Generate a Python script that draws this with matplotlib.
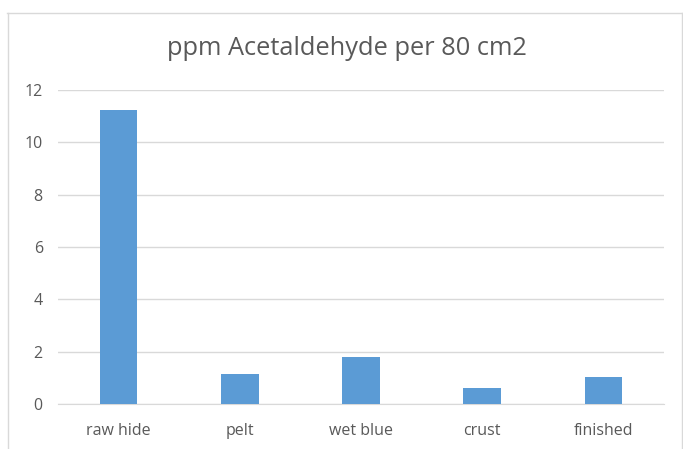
import matplotlib.pyplot as plt
from matplotlib.lines import Line2D

# tanning stages and measured acetaldehyde (ppm per 80 cm2)
stages = ['raw hide', 'pelt', 'wet blue', 'crust', 'finished']
ppm = [11.23, 1.13, 1.81, 0.60, 1.04]
y_ticks = [0, 2, 4, 6, 8, 10, 12]

plt.rcParams['font.family'] = ['Open Sans', 'DejaVu Sans']

fig = plt.figure(figsize=(6.83, 4.49), dpi=100)
ax = fig.add_axes([0.085, 0.1002, 0.887, 0.6994])

ax.bar(range(len(stages)), ppm, width=0.31, color='#5b9bd5', zorder=3)

ax.set_ylim(0, 12)
ax.set_xlim(-0.5, len(stages) - 0.5)
ax.set_yticks(y_ticks)
ax.set_xticks(range(len(stages)))
ax.set_xticklabels(stages)
ax.yaxis.grid(True, color='#d9d9d9', linewidth=1.0, zorder=0)
ax.tick_params(axis='both', length=0, labelsize=11.5, colors='#595959')
ax.tick_params(axis='y', pad=11)
ax.tick_params(axis='x', pad=14)
for s in ['top', 'right', 'left']:
    ax.spines[s].set_visible(False)
ax.spines['bottom'].set_color('#d9d9d9')

fig.text(0.508, 1 - 55/449, 'ppm Acetaldehyde per 80 cm2', ha='center',
         va='baseline', fontsize=18.3, color='#595959')

# thin chart-area frame
frame = '#d9d9d9'
fig.add_artist(Line2D([7/683, 682/683], [1 - 12.5/449] * 2, color=frame, lw=1))
fig.add_artist(Line2D([7.5/683] * 2, [0, 1 - 12.5/449], color=frame, lw=1))
fig.add_artist(Line2D([681.5/683] * 2, [0, 1 - 12.5/449], color=frame, lw=1))

fig.savefig('out.png', dpi=100)
